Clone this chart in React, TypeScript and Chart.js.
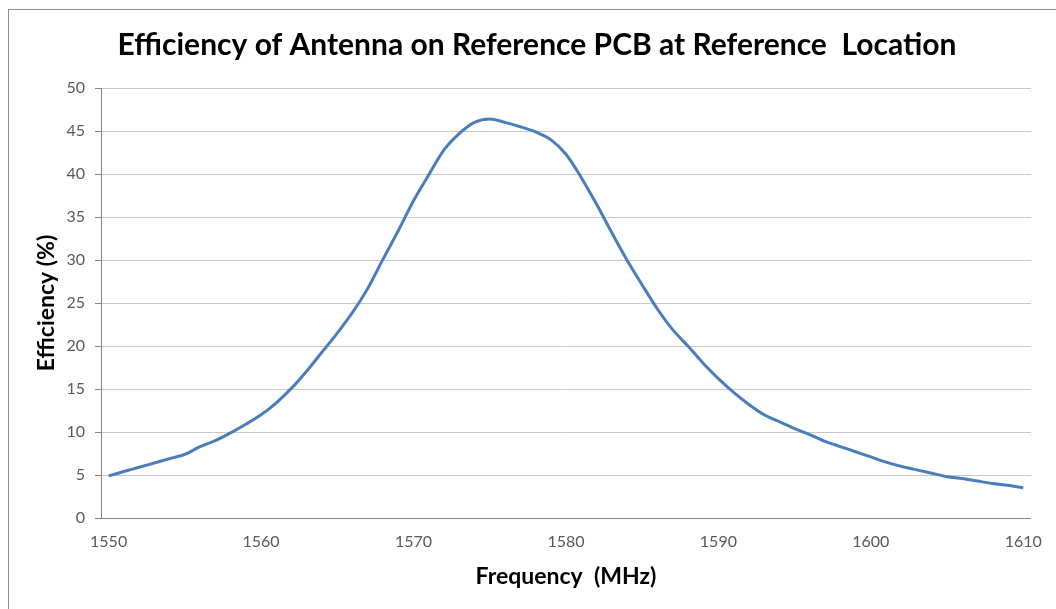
import React, { useEffect, useRef } from "react";
import { Chart, registerables } from "chart.js";

Chart.register(...registerables);

const chartTitle = "Efficiency of Antenna on Reference PCB at Reference  Location";
const xAxisTitle = "Frequency  (MHz)";
const yAxisTitle = "Efficiency (%)";

const frequencies = [
  1550, 1551, 1552, 1553, 1554, 1555, 1556, 1557, 1558, 1559,
  1560, 1561, 1562, 1563, 1564, 1565, 1566, 1567, 1568, 1569,
  1570, 1571, 1572, 1573, 1574, 1575, 1576, 1577, 1578, 1579,
  1580, 1581, 1582, 1583, 1584, 1585, 1586, 1587, 1588, 1589,
  1590, 1591, 1592, 1593, 1594, 1595, 1596, 1597, 1598, 1599,
  1600, 1601, 1602, 1603, 1604, 1605, 1606, 1607, 1608, 1609,
  1610,
];

const efficiency = [
  4.9, 5.4, 5.9, 6.4, 6.9, 7.4, 8.3, 9.0, 9.9, 10.9,
  12.0, 13.4, 15.1, 17.1, 19.3, 21.5, 23.9, 26.7, 30.1, 33.4,
  36.9, 39.9, 42.8, 44.7, 46.0, 46.4, 46.0, 45.5, 44.9, 44.0,
  42.3, 39.6, 36.5, 33.2, 30.0, 27.1, 24.3, 21.9, 20.0, 18.0,
  16.2, 14.6, 13.2, 12.0, 11.2, 10.4, 9.7, 8.9, 8.3, 7.7,
  7.1, 6.5, 6.0, 5.6, 5.2, 4.8, 4.6, 4.3, 4.0, 3.8,
  3.5,
];

const xTickValues = [1550, 1560, 1570, 1580, 1590, 1600, 1610];
const yTickValues = [0, 5, 10, 15, 20, 25, 30, 35, 40, 45, 50];

const FONT = "Lato, 'Open Sans', sans-serif";

const titlePlugin = {
  id: "customTitle",
  afterDraw(chart: any) {
    const ctx = chart.ctx;
    ctx.save();
    ctx.font = `bold 30px ${FONT}`;
    ctx.fillStyle = "#000000";
    ctx.textAlign = "center";
    ctx.textBaseline = "middle";
    ctx.fillText(chartTitle, 537, 45);
    ctx.restore();
  },
};

export default function App() {
  const canvasRef = useRef<HTMLCanvasElement | null>(null);

  useEffect(() => {
    if (!canvasRef.current) return;
    const points = frequencies.map((f, i) => ({ x: f, y: efficiency[i] }));
    const chart = new Chart(canvasRef.current, {
      type: "line",
      data: {
        datasets: [
          {
            label: "Efficiency",
            data: points,
            borderColor: "#4a7ebb",
            backgroundColor: "#4a7ebb",
            borderWidth: 3,
            pointRadius: 0,
            tension: 0.3,
            fill: false,
          },
        ],
      },
      options: {
        animation: false,
        responsive: false,
        devicePixelRatio: 1,
        layout: { padding: { top: 88, left: 0, right: 19, bottom: 0 } },
        plugins: {
          legend: { display: false },
          title: { display: false },
          tooltip: { enabled: false },
        },
        scales: {
          x: {
            type: "linear",
            min: 1549.5,
            max: 1610.5,
            afterBuildTicks: (axis: any) => {
              axis.ticks = xTickValues.map((v) => ({ value: v }));
            },
            afterFit: (scale: any) => {
              scale.height = 91;
            },
            grid: { display: false, drawTicks: false, tickLength: 0 },
            border: { display: true, color: "#868686", width: 1 },
            ticks: {
              autoSkip: false,
              maxRotation: 0,
              minRotation: 0,
              padding: 14,
              color: "#595959",
              font: { family: FONT, size: 16 },
              callback: (v: any) => String(v),
            },
            title: {
              display: true,
              text: xAxisTitle,
              color: "#000000",
              font: { family: FONT, size: 23, weight: "bold" },
              padding: { top: 4, bottom: 19 },
            },
          },
          y: {
            type: "linear",
            min: 0,
            max: 50,
            afterBuildTicks: (axis: any) => {
              axis.ticks = yTickValues.map((v) => ({ value: v }));
            },
            afterFit: (scale: any) => {
              scale.width = 101;
            },
            grid: {
              color: "#c8c8c8",
              lineWidth: 1,
              drawTicks: true,
              tickLength: 6,
              tickColor: "#868686",
            },
            border: { display: true, color: "#868686", width: 1 },
            ticks: {
              padding: 10,
              color: "#595959",
              font: { family: FONT, size: 16 },
            },
            title: {
              display: true,
              text: yAxisTitle,
              color: "#000000",
              font: { family: FONT, size: 23, weight: "bold" },
              padding: { top: 33, bottom: 0 },
            },
          },
        },
      },
      plugins: [titlePlugin],
    } as any);
    return () => chart.destroy();
  }, []);

  return (
    <div
      style={{
        position: "absolute",
        left: 0,
        top: 0,
        width: 1056,
        height: 609,
        overflow: "hidden",
        background: "#ffffff",
      }}
    >
      <div
        style={{
          position: "absolute",
          left: 8,
          top: 9,
          width: 1200,
          height: 800,
          border: "1px solid #8c8c8c",
          boxSizing: "border-box",
        }}
      />
      <canvas
        ref={canvasRef}
        width={1056}
        height={609}
        style={{ position: "absolute", left: 0, top: 0, width: 1056, height: 609 }}
      />
    </div>
  );
}
